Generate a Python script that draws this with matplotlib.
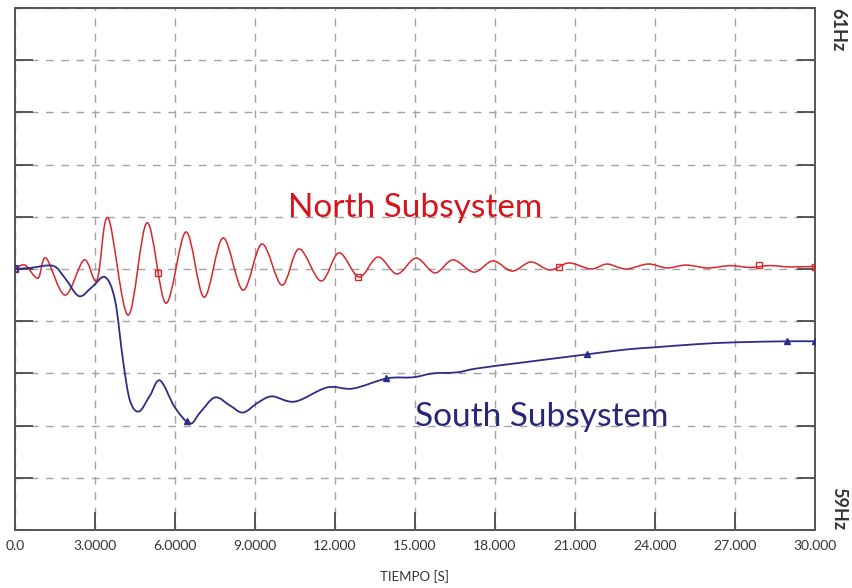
import matplotlib
matplotlib.use("Agg")
import matplotlib.pyplot as plt
from matplotlib.path import Path
from matplotlib.patches import PathPatch
import numpy as np

plt.rcParams['font.family'] = ['Lato', 'DejaVu Sans']

# frequency traces (time in s, frequency in Hz)
north_t = [0.0, 0.375, 0.86, 1.16, 1.875, 2.59, 3.075, 3.49, 4.24, 4.95, 5.66, 6.41,
           7.09, 7.80, 8.55, 9.26, 10.01, 10.65, 11.475, 12.15, 12.90, 13.61, 14.325,
           15.04, 15.75, 16.425, 17.21, 17.925, 18.64, 19.35, 20.06, 20.775, 21.6, 22.2,
           22.91, 23.74, 24.45, 25.16, 25.99, 26.81, 27.56, 28.31, 29.06, 30.0]
north_f = [60.000, 60.015, 59.965, 60.042, 59.900, 60.035, 59.958, 60.196, 59.823, 60.177,
           59.869, 60.142, 59.892, 60.119, 59.919, 60.096, 59.938, 60.077, 59.954, 60.062,
           59.969, 60.046, 59.981, 60.042, 59.985, 60.035, 59.988, 60.031, 59.992, 60.027,
           59.996, 60.023, 60.000, 60.019, 60.000, 60.019, 60.004, 60.015, 60.004, 60.013,
           60.006, 60.013, 60.008, 60.010]

south_t = [0.0, 0.5625, 1.425, 1.875, 2.40, 2.89, 3.375, 3.75, 4.05, 4.31, 4.65, 5.06,
           5.44, 6.0, 6.56, 6.94, 7.5, 8.06, 8.55, 9.11, 9.64, 10.5, 11.7, 12.675, 13.95,
           14.925, 15.675, 16.575, 17.325, 19.05, 21.45, 22.95, 24.0, 25.575, 27.0, 28.95, 30.0]
south_f = [60.000, 60.004, 60.012, 59.965, 59.896, 59.931, 59.969, 59.881, 59.650, 59.496,
           59.454, 59.515, 59.573, 59.469, 59.408, 59.450, 59.508, 59.477, 59.450, 59.488,
           59.512, 59.492, 59.546, 59.542, 59.581, 59.585, 59.600, 59.604, 59.619, 59.642,
           59.673, 59.692, 59.700, 59.712, 59.719, 59.723, 59.723]

# marker positions
north_mark_t = [0.0, 5.36, 12.86, 20.4, 27.9, 30.0]
north_mark_f = [60.000, 59.985, 59.969, 60.008, 60.015, 60.008]
south_start_t = [0.0]
south_start_f = [60.000]
south_mark_t = [6.45, 13.91, 21.45, 28.95, 30.0]
south_mark_f = [59.419, 59.581, 59.673, 59.723, 59.723]

x_ticks = [0, 3, 6, 9, 12, 15, 18, 21, 24, 27, 30]
x_labels = ["0.0", "3.0000", "6.0000", "9.0000", "12.000", "15.000",
            "18.000", "21.000", "24.000", "27.000", "30.000"]
y_ticks = [59.0, 59.2, 59.4, 59.6, 59.8, 60.0, 60.2, 60.4, 60.6, 60.8, 61.0]

RED = "#d8262a"
BLUE = "#2b2d86"
RED_TXT = "#d7141c"
BLUE_TXT = "#25267c"


def smooth_path(xs, ys):
    # curved segments through the read points (Catmull-Rom as cubic Bezier)
    p = np.column_stack([xs, ys])
    p = np.vstack([p[0], p, p[-1]])
    verts = [p[1]]
    codes = [Path.MOVETO]
    for i in range(1, len(p) - 2):
        c1 = p[i] + (p[i + 1] - p[i - 1]) / 6
        c2 = p[i + 1] - (p[i + 2] - p[i]) / 6
        verts += [c1, c2, p[i + 1]]
        codes += [Path.CURVE4] * 3
    return Path(verts, codes)


fig = plt.figure(figsize=(8.52, 5.88), dpi=100)
ax = fig.add_axes([15 / 852, 58 / 588, 800 / 852, 522 / 588])

ax.set_xlim(0, 30)
ax.set_ylim(59, 61)

ax.grid(True, color="#a3a3a3", linestyle=(0, (5.5, 5.5)), linewidth=1.0)
ax.set_axisbelow(True)

ax.add_patch(PathPatch(smooth_path(north_t, north_f), fill=False, edgecolor=RED, lw=1.1, zorder=3))
ax.add_patch(PathPatch(smooth_path(south_t, south_f), fill=False, edgecolor=BLUE, lw=1.3, zorder=3))

ax.plot(north_mark_t, north_mark_f, linestyle="none", marker="s", ms=5, mfc="none",
        mec=RED, mew=1.0, zorder=4)
ax.plot(south_start_t, south_start_f, linestyle="none", marker="s", ms=4.5, mfc="none",
        mec=BLUE, mew=1.2, zorder=4)
ax.plot(south_mark_t, south_mark_f, linestyle="none", marker="^", ms=4.5, color=BLUE, zorder=4)

ax.set_xticks(x_ticks)
ax.set_xticklabels(x_labels)
ax.set_yticks(y_ticks)
ax.set_yticklabels([])
ax.tick_params(axis="x", direction="in", length=13, width=1.3, color="#4a4a4a",
               labelsize=10, labelcolor="#333333", pad=7)
ax.tick_params(axis="y", direction="in", length=13, width=1.3, color="#4a4a4a",
               left=True, right=True)
for s in ax.spines.values():
    s.set_color("#555555")
    s.set_linewidth(1.4)

ax.set_xlabel("TIEMPO [S]", fontsize=9.5, color="#333333", labelpad=13)

ax.text(10.24, 60.2, "North Subsystem", color=RED_TXT, fontsize=24,
        ha="left", va="baseline", zorder=5)
ax.text(15.0, 59.4, "South Subsystem", color=BLUE_TXT, fontsize=24,
        ha="left", va="baseline", zorder=5)

ax.text(1.029, 1.0, "61Hz", transform=ax.transAxes, rotation=-90, fontsize=13,
        fontweight="bold", color="#333333", ha="center", va="top")
ax.text(1.029, 0.0, "59Hz", transform=ax.transAxes, rotation=-90, fontsize=13,
        fontweight="bold", color="#333333", ha="center", va="bottom")

fig.savefig("out.png", dpi=100)
